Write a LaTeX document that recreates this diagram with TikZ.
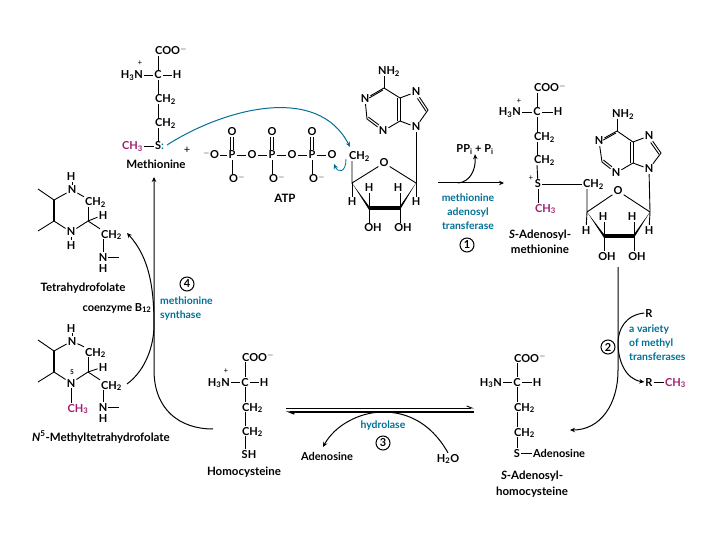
\documentclass[tikz,border=0pt]{standalone}
\usepackage{fontspec}
\setmainfont{Lato}
\usetikzlibrary{arrows.meta, positioning, calc}
\definecolor{methyl}{RGB}{160,30,110}
\definecolor{enzyme}{RGB}{0,112,150}
\begin{document}
\begin{tikzpicture}[
  x=1pt, y=-1pt,
  atom/.style={inner sep=1pt, text height=8pt, text depth=0pt, font=\fontsize{11}{11}\selectfont\bfseries},
  title/.style={inner sep=0pt, align=center, font=\fontsize{11.5}{15.5}\selectfont\bfseries},
  enz/.style={inner sep=0pt, align=center, text=enzyme, font=\fontsize{10.4}{14}\selectfont\bfseries},
  num/.style={draw, circle, minimum size=14pt, inner sep=0pt, line width=1pt, font=\fontsize{11}{11}\selectfont\bfseries},
  tiny/.style={inner sep=0pt, font=\fontsize{8}{8}\selectfont},
  bond/.style={line width=0.9pt},
  side/.style={bond, transform canvas={shift={#1}}},
  heavy/.style={line width=3.4pt},
  arrow/.style={-{Stealth[length=5pt,width=4.5pt]}, line width=1pt},
  bluearrow/.style={arrow, draw=enzyme}
]
  \useasboundingbox (0,0) rectangle (720,540);

  % methionine
  \node[atom, anchor=west] (mcoo) at (154,51) {COO$^{-}$};
  \node[atom] (mc) at (158,75) {C};
  \node[atom, anchor=east] (mn) at (144,75) {H\textsubscript{3}N};
  \node[tiny] (mplus) at (140,63) {+};
  \node[atom] (mh) at (177,75) {H};
  \node[atom, anchor=west] (mcha) at (154,99) {CH\textsubscript{2}};
  \node[atom, anchor=west] (mchb) at (154,123) {CH\textsubscript{2}};
  \node[atom, anchor=west] (ms) at (154,146) {S\textcolor{enzyme}{:}};
  \node[atom, text=methyl, anchor=east] (mme) at (144,146) {CH\textsubscript{3}};
  \node[title] (mlabel) at (156,164) {Methionine};
  \node[atom, font=\fontsize{11}{11}\selectfont] (plus) at (187,150) {+};
  \draw[bond] (mcoo.south -| mc) -- (mc);
  \draw[bond] (mn) -- (mc) -- (mh);
  \draw[bond] (mc) -- (mc |- mcha.north);
  \draw[bond] (mcha.south -| mc) -- (mc |- mchb.north);
  \draw[bond] (mchb.south -| mc) -- (mc |- ms.north);
  \draw[bond] (mme) -- (ms);

  % ATP
  \node[atom] (oa) at (211,155) {$^{-}$O};
  \node[atom] (pa) at (232,155) {P};
  \node[atom] (ob) at (252,155) {O};
  \node[atom] (pb) at (272,155) {P};
  \node[atom] (oc) at (292,155) {O};
  \node[atom] (pc) at (312,155) {P};
  \node[atom] (od) at (332,155) {O};
  \node[atom] (ua) at (232,132) {O};
  \node[atom] (ub) at (272,132) {O};
  \node[atom] (uc) at (312,132) {O};
  \node[atom, anchor=west] (da) at (228,179) {O$^{-}$};
  \node[atom, anchor=west] (db) at (268,179) {O$^{-}$};
  \node[atom, anchor=west] (dc) at (308,179) {O$^{-}$};
  \node[title] (atp) at (285,198) {ATP};
  \draw[bond] (oa) -- (pa) -- (ob) -- (pb) -- (oc) -- (pc) -- (od);
  \draw[side={(-1.2pt,0pt)}] (pa) -- (ua);
  \draw[side={(1.2pt,0pt)}] (pa) -- (ua);
  \draw[side={(-1.2pt,0pt)}] (pb) -- (ub);
  \draw[side={(1.2pt,0pt)}] (pb) -- (ub);
  \draw[side={(-1.2pt,0pt)}] (pc) -- (uc);
  \draw[side={(1.2pt,0pt)}] (pc) -- (uc);
  \draw[bond] (pa) -- (pa |- da.north);
  \draw[bond] (pb) -- (pb |- db.north);
  \draw[bond] (pc) -- (pc |- dc.north);

  % ribose of ATP
  \node[atom, anchor=west] (ach) at (348,156) {CH\textsubscript{2}};
  \node[atom] (ao) at (384,163) {O};
  \coordinate (av1) at (352,183);
  \coordinate (av2) at (369,208);
  \coordinate (av3) at (400,208);
  \coordinate (av4) at (416,183);
  \node[atom] (ah1) at (352,202) {H};
  \node[atom] (ah2) at (369,188) {H};
  \node[atom] (ah3) at (398,188) {H};
  \node[atom] (ah4) at (416,202) {H};
  \node[atom] (aoh1) at (373,228) {OH};
  \node[atom] (aoh2) at (403,228) {OH};
  \draw[bond] (av1 |- ach.south) -- (av1) -- (ao) -- (av4);
  \fill (av1) -- ([yshift=1.8pt]av2) -- ([yshift=-1.8pt]av2) -- cycle;
  \fill (av4) -- ([yshift=1.8pt]av3) -- ([yshift=-1.8pt]av3) -- cycle;
  \draw[heavy] (av2) -- (av3);
  \draw[bond] (av1) -- (ah1);
  \draw[bond] (av4) -- (ah4);
  \draw[bond] (av2) -- (ah2);
  \draw[bond] (av3) -- (av3 |- ah3.south);
  \draw[bond] (av2) -- (av2 |- aoh1.north);
  \draw[bond] (av3) -- (av3 |- aoh2.north);

  % adenine of ATP
  \node[atom] (anh) at (389,71) {NH\textsubscript{2}};
  \coordinate (ac6) at (384,88);
  \node[atom] (an1) at (365,99) {N};
  \coordinate (ac2) at (367,119);
  \node[atom] (an3) at (383,131) {N};
  \coordinate (ac4) at (400,121);
  \coordinate (ac5) at (400,98);
  \node[atom] (an7) at (416,92) {N};
  \coordinate (ac8) at (428,110);
  \node[atom] (an9) at (416,127) {N};
  \draw[bond] (ac6) -- (ac6 |- anh.south);
  \draw[bond] (ac6) -- (an1);
  \draw[side={(-1.2pt,-2.1pt)}] (ac6) -- (an1);
  \draw[bond] (an1) -- (ac2);
  \draw[bond] (ac2) -- (an3);
  \draw[side={(1.4pt,1.9pt)}] (ac2) -- (an3);
  \draw[bond] (an3) -- (ac4);
  \draw[bond] (ac4) -- (ac5);
  \draw[side={(-2.4pt,0pt)}] (ac4) -- (ac5);
  \draw[bond] (ac5) -- (ac6);
  \draw[bond] (ac5) -- (an7);
  \draw[bond] (an7) -- (ac8);
  \draw[side={(-2pt,-1.3pt)}] (an7) -- (ac8);
  \draw[bond] (ac8) -- (an9) -- (ac4);
  \draw[bond] (an9) -- (av4);

  % blue curves
  \coordinate (bstart) at (167,145);
  \coordinate (bend) at (350,147);
  \coordinate (cstart) at (346,159);
  \coordinate (cend) at (334,164);
  \draw[bluearrow] (bstart) .. controls (225,108) and (318,84) .. (bend);
  \draw[bluearrow, line width=0.8pt] (cstart) .. controls (346,173) and (338,173) .. (cend);

  % step 1
  \coordinate (ain) at (438,183);
  \coordinate (aout) at (504,183);
  \coordinate (abranch) at (458,183);
  \node[atom] (ppi) at (475,149) {PP\textsubscript{i} + P\textsubscript{i}};
  \node[enz] (ename) at (468,212) {methionine\\adenosyl\\transferase};
  \node[num] (one) at (467,245) {1};
  \draw[arrow] (ain) -- (aout);
  \draw[arrow] (abranch) .. controls (470,182) and (476,170) .. (ppi.south);

  % S-adenosylmethionine
  \node[atom, anchor=west] (scoo) at (533,88) {COO$^{-}$};
  \node[atom] (sc) at (537,112) {C};
  \node[atom, anchor=east] (sn) at (522,112) {H\textsubscript{3}N};
  \node[tiny] (splus) at (519,101) {+};
  \node[atom] (sh) at (558,112) {H};
  \node[atom, anchor=west] (scha) at (533,137) {CH\textsubscript{2}};
  \node[atom, anchor=west] (schb) at (533,160) {CH\textsubscript{2}};
  \node[atom] (ss) at (538,184) {S};
  \node[tiny] (ssplus) at (531,178) {+};
  \node[atom, text=methyl, anchor=west] (sme) at (534,208) {CH\textsubscript{3}};
  \node[atom, anchor=west] (sch) at (582,184) {CH\textsubscript{2}};
  \node[title] (slabel) at (540,242) {\textit{S}-Adenosyl-\\methionine};
  \draw[bond] (scoo.south -| sc) -- (sc);
  \draw[bond] (sn) -- (sc) -- (sh);
  \draw[bond] (sc) -- (sc |- scha.north);
  \draw[bond] (scha.south -| sc) -- (sc |- schb.north);
  \draw[bond] (schb.south -| sc) -- (ss);
  \draw[bond] (ss) -- (ss |- sme.north);
  \draw[bond] (ss) -- (sch);

  % ribose of S-adenosylmethionine
  \node[atom] (so) at (618,191) {O};
  \coordinate (sv1) at (587,212);
  \coordinate (sv2) at (604,236);
  \coordinate (sv3) at (634,236);
  \coordinate (sv4) at (650,212);
  \node[atom] (sh1) at (586,230) {H};
  \node[atom] (sh2) at (603,217) {H};
  \node[atom] (sh3) at (632,217) {H};
  \node[atom] (sh4) at (649,230) {H};
  \node[atom] (soh1) at (607,256) {OH};
  \node[atom] (soh2) at (637,256) {OH};
  \draw[bond] (sv1 |- sch.south) -- (sv1) -- (so) -- (sv4);
  \fill (sv1) -- ([yshift=1.8pt]sv2) -- ([yshift=-1.8pt]sv2) -- cycle;
  \fill (sv4) -- ([yshift=1.8pt]sv3) -- ([yshift=-1.8pt]sv3) -- cycle;
  \draw[heavy] (sv2) -- (sv3);
  \draw[bond] (sv1) -- (sh1);
  \draw[bond] (sv4) -- (sh4);
  \draw[bond] (sv2) -- (sv2 |- sh2.south);
  \draw[bond] (sv3) -- (sv3 |- sh3.south);
  \draw[bond] (sv2) -- (sv2 |- soh1.north);
  \draw[bond] (sv3) -- (sv3 |- soh2.north);

  % adenine of S-adenosylmethionine
  \node[atom] (snh) at (623,114) {NH\textsubscript{2}};
  \coordinate (sc6) at (617,131);
  \node[atom] (sn1) at (599,141) {N};
  \coordinate (sc2) at (602,162);
  \node[atom] (sn3) at (616,173) {N};
  \coordinate (sc4) at (633,163);
  \coordinate (sc5) at (633,142);
  \node[atom] (sn7) at (649,136) {N};
  \coordinate (sc8) at (661,153);
  \node[atom] (sn9) at (649,169) {N};
  \draw[bond] (sc6) -- (sc6 |- snh.south);
  \draw[bond] (sc6) -- (sn1);
  \draw[side={(-1.2pt,-2.1pt)}] (sc6) -- (sn1);
  \draw[bond] (sn1) -- (sc2);
  \draw[bond] (sc2) -- (sn3);
  \draw[side={(1.4pt,1.9pt)}] (sc2) -- (sn3);
  \draw[bond] (sn3) -- (sc4);
  \draw[bond] (sc4) -- (sc5);
  \draw[side={(-2.4pt,0pt)}] (sc4) -- (sc5);
  \draw[bond] (sc5) -- (sc6);
  \draw[bond] (sc5) -- (sn7);
  \draw[bond] (sn7) -- (sc8);
  \draw[side={(-2pt,-1.3pt)}] (sn7) -- (sc8);
  \draw[bond] (sc8) -- (sn9) -- (sc4);
  \draw[bond] (sn9) -- (sv4);

  % step 2
  \node[atom] (ra) at (649,313) {R};
  \node[atom] (rb) at (649,382) {R};
  \node[atom, text=methyl, anchor=west] (rme) at (664,382) {CH\textsubscript{3}};
  \node[enz, align=left, anchor=west] (rname) at (629,343) {a variety\\of methyl\\transferases};
  \node[num] (two) at (608,347) {2};
  \coordinate (tstart) at (618,267);
  \coordinate (tmid) at (618,370);
  \coordinate (tend) at (570,430);
  \draw[arrow] (tstart) -- (tmid) .. controls (618,405) and (600,430) .. (tend);
  \draw[arrow] (ra.west) .. controls (625,315) and (618,330) .. (618,343) .. controls (618,360) and (625,379) .. (rb.west);
  \draw[bond] (rb) -- (rme);

  % S-adenosylhomocysteine
  \node[atom, anchor=west] (hcoo) at (513,358) {COO$^{-}$};
  \node[atom] (hc) at (517,382) {C};
  \node[atom, anchor=east] (hn) at (503,382) {H\textsubscript{3}N};
  \node[atom] (hh) at (537,382) {H};
  \node[atom, anchor=west] (hcha) at (513,407) {CH\textsubscript{2}};
  \node[atom, anchor=west] (hchb) at (513,432) {CH\textsubscript{2}};
  \node[atom] (hs) at (517,453) {S};
  \node[atom, anchor=west] (had) at (532,453) {Adenosine};
  \node[title] (hlabel) at (532,484) {\textit{S}-Adenosyl-\\homocysteine};
  \draw[bond] (hcoo.south -| hc) -- (hc);
  \draw[bond] (hn) -- (hc) -- (hh);
  \draw[bond] (hc) -- (hc |- hcha.north);
  \draw[bond] (hcha.south -| hc) -- (hc |- hchb.north);
  \draw[bond] (hchb.south -| hc) -- (hs);
  \draw[bond] (hs) -- (had);

  % homocysteine
  \node[atom, anchor=west] (ycoo) at (241,357) {COO$^{-}$};
  \node[atom] (yc) at (245,382) {C};
  \node[atom, anchor=east] (yn) at (231,382) {H\textsubscript{3}N};
  \node[tiny] (yplus) at (226,371) {+};
  \node[atom] (yh) at (264,382) {H};
  \node[atom, anchor=west] (ycha) at (241,407) {CH\textsubscript{2}};
  \node[atom, anchor=west] (ychb) at (241,431) {CH\textsubscript{2}};
  \node[atom] (ysh) at (249,454) {SH};
  \node[title] (ylabel) at (244,472) {Homocysteine};
  \draw[bond] (ycoo.south -| yc) -- (yc);
  \draw[bond] (yn) -- (yc) -- (yh);
  \draw[bond] (yc) -- (yc |- ycha.north);
  \draw[bond] (ycha.south -| yc) -- (yc |- ychb.north);
  \draw[bond] (ychb.south -| yc) -- (yc |- ysh.north);

  % step 3
  \coordinate (eqa) at (286,408);
  \coordinate (eqb) at (474,408);
  \coordinate (eqc) at (474,412);
  \coordinate (eqd) at (286,412);
  \draw[-{Straight Barb[left,length=5pt,width=4pt]}, line width=0.9pt] (eqa) -- (eqb);
  \draw[-{Straight Barb[left,length=5pt,width=4pt]}, line width=1.3pt] (eqc) -- (eqd);
  \node[enz] (hname) at (383,426) {hydrolase};
  \node[num] (three) at (383,443) {3};
  \node[atom] (ade) at (327,456) {Adenosine};
  \node[atom] (water) at (448,458) {H\textsubscript{2}O};
  \coordinate (hend) at (323,447);
  \draw[arrow] (water.north) .. controls (430,421) and (405,412) .. (383,412) .. controls (360,412) and (335,425) .. (hend);

  % step 4
  \coordinate (vstart) at (213,429);
  \coordinate (vtop) at (154,177);
  \draw[arrow] (vstart) .. controls (180,429) and (154,410) .. (154,370) -- (vtop);
  \node[num] (four) at (187,284) {4};
  \node[enz, align=left, anchor=west] (vname) at (160,309) {methionine\\synthase};
  \node[atom, text depth=2pt] (b12) at (117,308) {coenzyme B\textsubscript{12}};

  % tetrahydrofolate
  \node[atom] (th1) at (71,177) {H};
  \node[atom] (tn1) at (72,190) {N};
  \node[atom, anchor=west] (tch) at (84,202) {CH\textsubscript{2}};
  \coordinate (tc1) at (88,221);
  \node[atom] (th2) at (103,215) {H};
  \node[atom, anchor=west] (tchb) at (100,234) {CH\textsubscript{2}};
  \node[atom] (tn3) at (103,257) {N};
  \node[atom] (th3) at (103,268) {H};
  \coordinate (tf) at (119,257);
  \node[atom] (tn2) at (71,232) {N};
  \node[atom] (th4) at (71,245) {H};
  \coordinate (tc2) at (54,200);
  \coordinate (tc3) at (54,221);
  \coordinate (tm1) at (38,189);
  \coordinate (tm2) at (38,231);
  \node[title] (tlabel) at (83,288) {Tetrahydrofolate};
  \draw[bond] (tn1) -- (tn1 |- th1.south);
  \draw[bond] (tn2) -- (tn2 |- th4.north);
  \draw[bond] (tn1) -- (tch.north west);
  \draw[bond] (tc1) -- (tc1 |- tch.south);
  \draw[bond] (tn1) -- (tc2);
  \draw[line width=1.8pt] (tc2) -- (tc3);
  \draw[bond] (tc3) -- (tn2) -- (tc1);
  \draw[bond] (tm1) -- (tc2);
  \draw[bond] (tm2) -- (tc3);
  \draw[bond] (tc1) -- (th2);
  \draw[bond] (tc1) -- (tchb.north west);
  \draw[bond] (tn3 |- tchb.south) -- (tn3) -- (tf);

  % methyltetrahydrofolate
  \node[atom] (nh1) at (71,328) {H};
  \node[atom] (nn1) at (72,341) {N};
  \node[atom, anchor=west] (nch) at (84,352) {CH\textsubscript{2}};
  \coordinate (nc1) at (88,372);
  \node[atom] (nh2) at (103,367) {H};
  \node[atom, anchor=west] (nchb) at (100,385) {CH\textsubscript{2}};
  \node[atom] (nn3) at (103,407) {N};
  \node[atom] (nh3) at (103,418) {H};
  \coordinate (nf) at (119,407);
  \node[atom] (nn2) at (71,383) {N};
  \node[tiny, font=\fontsize{6.5}{7}\selectfont\bfseries] (nfive) at (72,372) {5};
  \node[atom, text=methyl] (nme) at (78,408) {CH\textsubscript{3}};
  \coordinate (nc2) at (54,351);
  \coordinate (nc3) at (54,372);
  \coordinate (nm1) at (38,340);
  \coordinate (nm2) at (38,382);
  \node[title] (nlabel) at (101,437) {\textit{N}\textsuperscript{5}-Methyltetrahydrofolate};
  \draw[bond] (nn1) -- (nn1 |- nh1.south);
  \draw[bond] (nn2) -- (nn2 |- nme.north);
  \draw[bond] (nn1) -- (nch.north west);
  \draw[bond] (nc1) -- (nc1 |- nch.south);
  \draw[bond] (nn1) -- (nc2);
  \draw[line width=1.8pt] (nc2) -- (nc3);
  \draw[bond] (nc3) -- (nn2) -- (nc1);
  \draw[bond] (nm1) -- (nc2);
  \draw[bond] (nm2) -- (nc3);
  \draw[bond] (nc1) -- (nh2);
  \draw[bond] (nc1) -- (nchb.north west);
  \draw[bond] (nn3 |- nchb.south) -- (nn3) -- (nf);

  % folate curve
  \coordinate (fstart) at (127,384);
  \coordinate (fend) at (127,233);
  \draw[arrow] (fstart) .. controls (146,370) and (154,345) .. (154,325) .. controls (154,290) and (150,258) .. (fend);
\end{tikzpicture}
\end{document}
